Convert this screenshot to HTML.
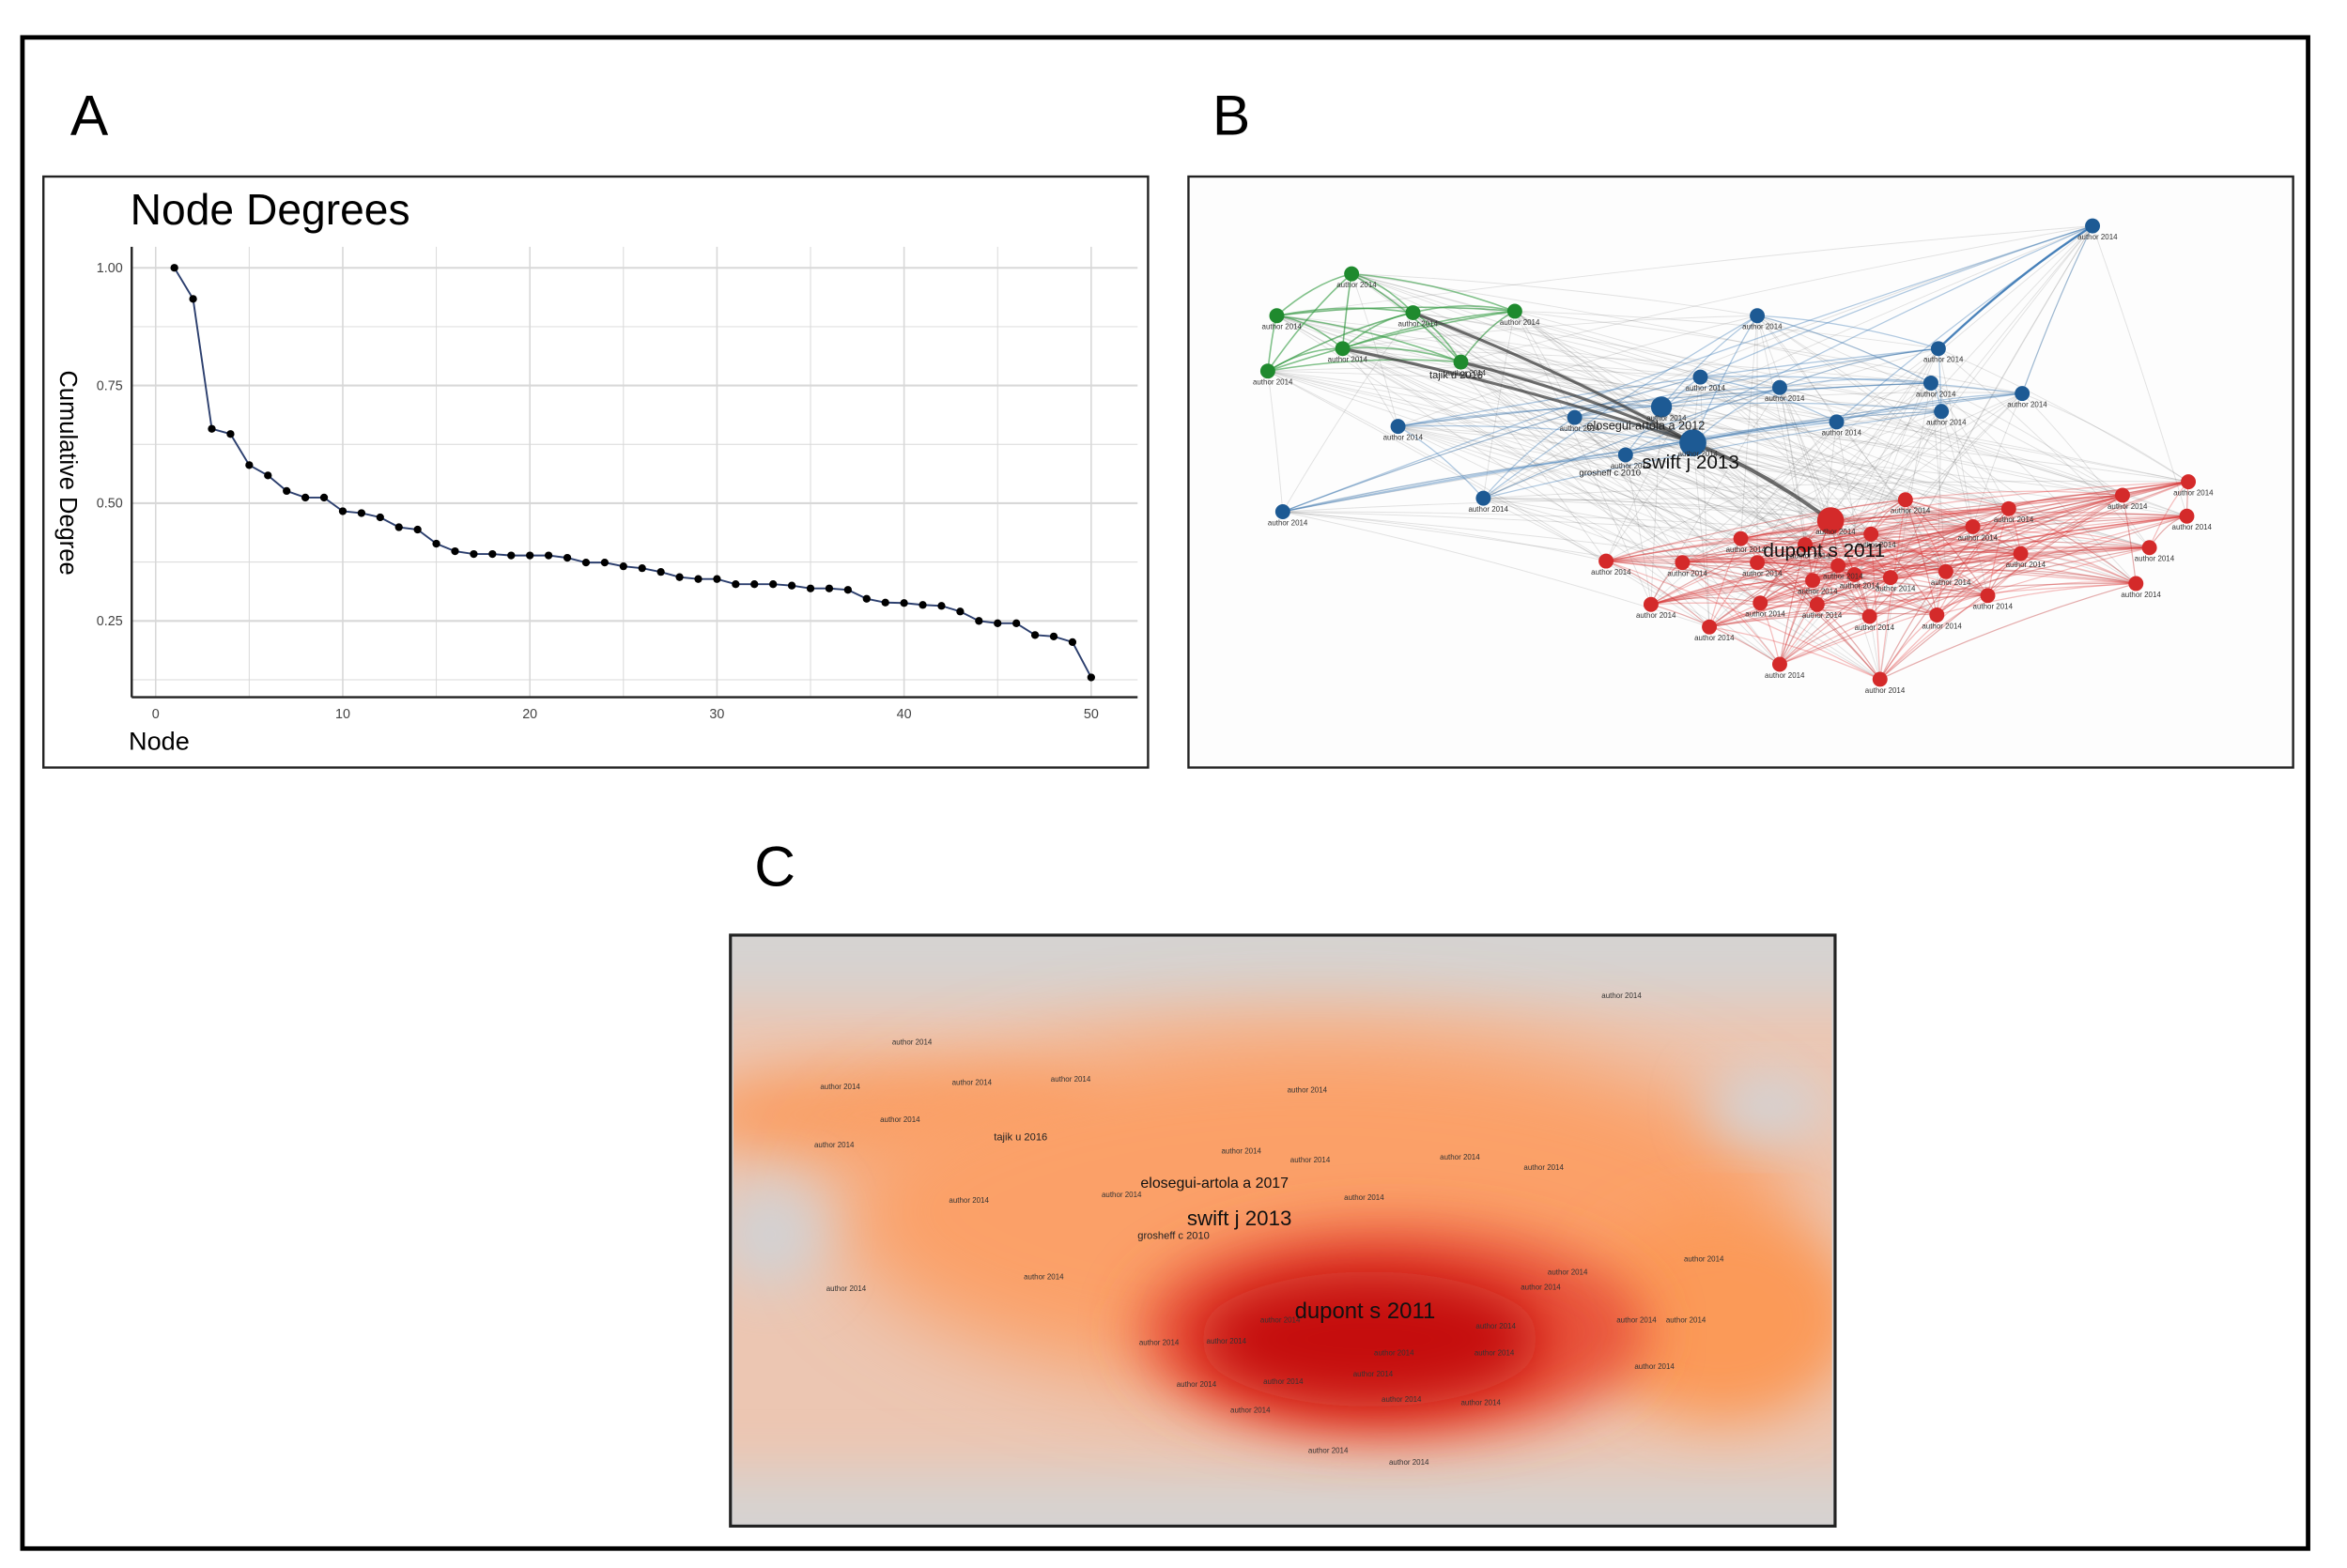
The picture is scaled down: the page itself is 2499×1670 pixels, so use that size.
<!DOCTYPE html>
<html><head><meta charset="utf-8"><style>
html,body{margin:0;padding:0;background:#fff;}
svg{display:block;font-family:"Liberation Sans",sans-serif;}
</style></head><body>
<svg id="root" width="2499" height="1670" viewBox="0 0 1568 1048" preserveAspectRatio="none">
<defs>
<filter id="blur" x="-50%" y="-50%" width="200%" height="200%"><feGaussianBlur stdDeviation="28"/></filter>
<filter id="blur2" x="-50%" y="-50%" width="200%" height="200%"><feGaussianBlur stdDeviation="18"/></filter>
<clipPath id="cclip"><rect x="490" y="627" width="734" height="391"/></clipPath>
</defs>
<rect x="15" y="25" width="1527" height="1010" fill="#fff" stroke="#000" stroke-width="3"/>
<text x="47" y="90" font-size="38">A</text>
<text x="810" y="90" font-size="38">B</text>
<text x="504" y="592" font-size="38">C</text>

<g>
<rect x="29" y="118" width="738" height="395" fill="#fff" stroke="#222" stroke-width="1.5"/>
<text x="87" y="150" font-size="29">Node Degrees</text>
<g id="gridA"></g>
<g id="marksA"></g>
<line x1="88" y1="165" x2="88" y2="466" stroke="#222" stroke-width="1.5"/>
<line x1="88" y1="466" x2="760" y2="466" stroke="#222" stroke-width="1.5"/>
<g id="ticksA" font-size="9" fill="#444"></g>
<text x="86" y="501" font-size="17">Node</text>
<text transform="translate(40,316) rotate(90)" text-anchor="middle" font-size="16">Cumulative Degree</text>
</g>

<g>
<rect x="794" y="118" width="738" height="395" fill="#fdfdfd" stroke="#222" stroke-width="1.5"/>
<g id="edgesB"></g><g id="nodesB"></g><g id="labelsB" font-size="5" fill="#333"></g>
<text x="1097" y="313" font-size="13" fill="#111">swift j 2013</text>
<text x="1055" y="318" font-size="6" fill="#222">grosheff c 2010</text>
<text x="1060" y="287" font-size="8" fill="#222">elosegui-artola a 2012</text>
<text x="1178" y="372" font-size="13" fill="#111">dupont s 2011</text>
<text x="955" y="253" font-size="7" fill="#222">tajik u 2016</text>
</g>

<g>
<rect x="488" y="625" width="738" height="395" fill="#d4d4d4" stroke="#222" stroke-width="2"/>
<g clip-path="url(#cclip)">
<rect x="490" y="627" width="734" height="391" fill="#ecc6b2"/>
<rect x="440" y="560" width="840" height="110" fill="#d6d3d1" filter="url(#blur2)"/>
<rect x="440" y="985" width="840" height="90" fill="#d6d3d1" filter="url(#blur2)"/>
<ellipse cx="600" cy="745" rx="140" ry="35" fill="#f9a068" filter="url(#blur2)"/>
<ellipse cx="880" cy="810" rx="320" ry="120" fill="#fba068" filter="url(#blur)"/>
<ellipse cx="1150" cy="880" rx="90" ry="70" fill="#fb9a58" filter="url(#blur2)"/>
<ellipse cx="930" cy="890" rx="170" ry="70" fill="#e8523a" filter="url(#blur2)"/>
<ellipse cx="915" cy="895" rx="115" ry="45" fill="#c50f10" filter="url(#blur2)"/>
<ellipse cx="1180" cy="740" rx="40" ry="22" fill="#d2d4d8" filter="url(#blur2)"/>
<ellipse cx="515" cy="825" rx="35" ry="35" fill="#d2d2d4" filter="url(#blur2)"/>
</g>
<g id="labelsC" font-size="5" fill="#333"></g>
<text x="762" y="794" font-size="10" fill="#111">elosegui-artola a 2017</text>
<text x="793" y="819" font-size="14" fill="#111">swift j 2013</text>
<text x="760" y="828" font-size="7" fill="#222">grosheff c 2010</text>
<text x="865" y="881" font-size="15" fill="#111">dupont s 2011</text>
<text x="664" y="762" font-size="7" fill="#222">tajik u 2016</text>
</g>
</svg>
<script>
const NS="http://www.w3.org/2000/svg";
// ---- Panel A data ----
const nodeIdx=[1,2,3,4,5,6,7,8,9,10,11,12,13,14,15,16,17,18,19,20,21,22,23,24,25,26,27,28,29,30,31,32,33,34,35,36,37,38,39,40,41,42,43,44,45,46,47,48,49,50];
const cumDegree=[1.00,0.934,0.658,0.647,0.581,0.559,0.526,0.512,0.512,0.483,0.479,0.470,0.449,0.444,0.414,0.398,0.392,0.392,0.389,0.389,0.389,0.384,0.374,0.374,0.366,0.362,0.354,0.343,0.339,0.339,0.328,0.328,0.328,0.325,0.319,0.319,0.316,0.297,0.289,0.288,0.284,0.282,0.270,0.250,0.245,0.245,0.220,0.217,0.205,0.130];
const xTicks=[0,10,20,30,40,50];
const xMinor=[5,15,25,35,45];
const yTicks=[0.25,0.50,0.75,1.00];
const yTickLabels=["0.25","0.50","0.75","1.00"];
const yMinor=[0.125,0.375,0.625,0.875];
function xs(v){return 104+v*(729-104)/50;}
function ys(v){return 179+(1-v)*(415-179)/0.75;}
function mk(tag,attrs,parent){const e=document.createElementNS(NS,tag);for(const k in attrs)e.setAttribute(k,attrs[k]);parent.appendChild(e);return e;}
const gA=document.getElementById('gridA');
xTicks.concat(xMinor).forEach(v=>{const l=mk('line',{x1:xs(v),x2:xs(v),y1:165,y2:466,stroke:'#d8d8d8','stroke-width':xMinor.includes(v)?0.6:1},gA);

});
yTicks.concat(yMinor).forEach(v=>{const l=mk('line',{x1:88,x2:760,y1:ys(v),y2:ys(v),stroke:'#d8d8d8','stroke-width':yMinor.includes(v)?0.6:1.3},gA);

});
const tA=document.getElementById('ticksA');
xTicks.forEach(v=>{const t=mk('text',{x:xs(v),y:480,'text-anchor':'middle'},tA);t.textContent=v;

});
yTicks.forEach((v,i)=>{const t=mk('text',{x:82,y:ys(v)+3,'text-anchor':'end'},tA);t.textContent=yTickLabels[i];

});
const mA=document.getElementById('marksA');
const ln=mk('polyline',{points:nodeIdx.map((n,i)=>xs(n)+','+ys(cumDegree[i])).join(' '),fill:'none',stroke:'#2c3f6e','stroke-width':1.2},mA);


nodeIdx.forEach((n,i)=>{const c=mk('circle',{cx:xs(n),cy:ys(cumDegree[i]),r:2.6,fill:'#000'},mA);

});

// ---- Panel B network ----
const greenNodes=[[903,183],[853,211],[944,209],[1012,208],[897,233],[976,242],[847,248]];
const blueNodes=[[1398,151],[1174,211],[1295,233],[1136,252],[1189,259],[1290,256],[1351,263],[1297,275],[1110,272],[1227,282],[1052,279],[1131,296],[1086,304],[934,285],[991,333],[857,342]];
const redNodes=[[1462,322],[1418,331],[1461,345],[1273,334],[1223,348],[1163,360],[1206,364],[1250,357],[1318,352],[1342,340],[1228,378],[1073,375],[1124,376],[1174,376],[1211,388],[1350,370],[1239,384],[1300,382],[1263,386],[1328,398],[1436,366],[1427,390],[1103,404],[1142,419],[1176,403],[1214,404],[1249,412],[1294,411],[1189,444],[1256,454]];
const eB=document.getElementById('edgesB'),nB=document.getElementById('nodesB'),lB=document.getElementById('labelsB');
function edge(a,b,col,op,w){const l=mk('path',{d:`M${a[0]},${a[1]} Q${(a[0]+b[0])/2},${(a[1]+b[1])/2-8} ${b[0]},${b[1]}`,fill:'none',stroke:col,'stroke-opacity':op,'stroke-width':w},eB);

}
const all=greenNodes.concat(blueNodes,redNodes);
for(let i=0;i<all.length;i++)for(let j=i+1;j<all.length;j++){if((i*7+j*3)%4===0)edge(all[i],all[j],'#666',0.18,0.6);}
for(let i=0;i<greenNodes.length;i++)for(let j=i+1;j<greenNodes.length;j++)edge(greenNodes[i],greenNodes[j],'#2e9a3e',0.6,1);
for(let i=0;i<blueNodes.length;i++)for(let j=i+1;j<blueNodes.length;j++)if((i+j)%3===0)edge(blueNodes[i],blueNodes[j],'#3a78b5',0.4,0.8);
for(let i=0;i<redNodes.length;i++)for(let j=i+1;j<redNodes.length;j++)if((i+j)%2===0)edge(redNodes[i],redNodes[j],'#e03030',0.3,0.8);
[[897,233],[944,209],[976,242]].forEach(g=>edge(g,[1131,296],'#333',0.7,2));
edge([1131,296],[1223,348],'#333',0.7,2.5);
edge([1398,151],[1295,233],'#3a78b5',0.9,1.5);
function node(p,col,r){const c=mk('circle',{cx:p[0],cy:p[1],r:r,fill:col},nB);


const t=mk('text',{x:p[0]-10,y:p[1]+9},lB);t.textContent='author 2014';

}
greenNodes.forEach(p=>node(p,'#1f8a2e',5));
blueNodes.forEach((p,i)=>node(p,'#1d5a94',i===11?9:(i===8?7:5)));
redNodes.forEach((p,i)=>node(p,'#d42a2a',i===4?9:5));

// ---- Panel C small labels ----
const cLabels=[[1070,667],[596,698],[548,728],[636,725],[702,723],[860,730],[588,750],[544,767],[816,771],[862,777],[962,775],[1018,782],[634,804],[736,800],[898,802],[1125,843],[1034,852],[684,855],[552,863],[1016,862],[1080,884],[1113,884],[842,884],[986,888],[761,899],[806,898],[985,906],[918,906],[1092,915],[786,927],[844,925],[904,920],[976,939],[923,937],[822,944],[874,971],[928,979]];
const lC=document.getElementById('labelsC');
cLabels.forEach(p=>{const t=mk('text',{x:p[0],y:p[1]},lC);t.textContent='author 2014';

});
</script>
</body></html>
